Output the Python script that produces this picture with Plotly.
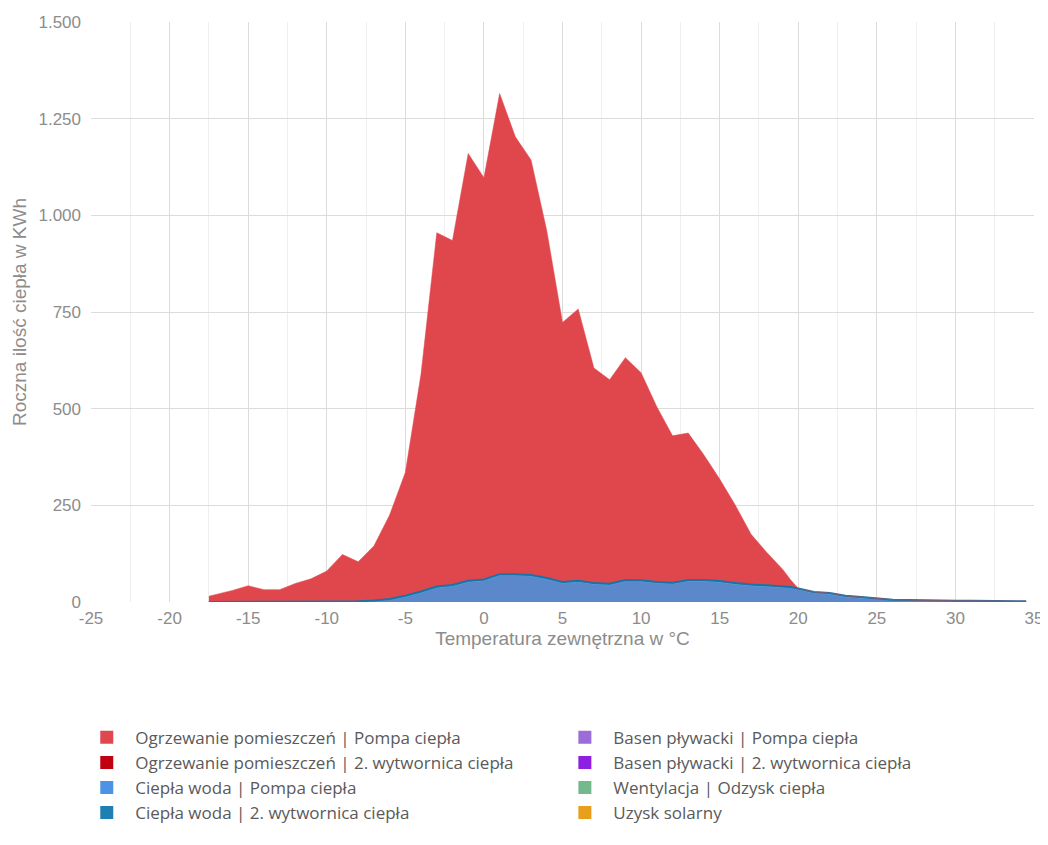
import plotly.graph_objects as go

# ---- data ----
temps = [-17.5, -17, -16, -15, -14, -13, -12, -11, -10, -9, -8, -7, -6, -5, -4, -3, -2, -1,
         0, 1, 2, 3, 4, 5, 6, 7, 8, 9, 10, 11, 12, 13, 14, 15, 16, 17, 18, 19, 19.5,
         20, 21, 22, 23, 24, 25, 26, 27, 28, 29, 30, 31, 32, 33, 34, 34.5]

# Ciepła woda | Pompa ciepła
hw_pump = [0, 0, 0, 0, 0, 0, 0, 0, 1, 1, 2, 3, 6, 13, 24, 37, 41, 52,
           55, 69, 69, 67, 59, 49, 52, 46, 44, 54, 53, 49, 47, 54, 54, 51, 46, 42, 40, 37, 36,
           32, 23, 20, 13, 10, 8, 5, 4, 3, 3, 2, 2, 2, 1, 1, 1]

# Ciepła woda | 2. wytwornica ciepła
hw_second = [0, 0, 0, 0, 0, 0, 0, 0, 0, 0, 0, 1, 2, 3, 3, 3, 3, 3,
             3, 3, 3, 3, 3, 3, 3, 3, 3, 3, 3, 3, 3, 3, 3, 3, 3, 3, 3, 3, 3,
             3, 3, 3, 3, 3, 2, 1, 1, 1, 1, 1, 1, 1, 1, 1, 1]

# Ogrzewanie pomieszczeń | Pompa ciepła (range -17.5 ... 19.5)
heat_temps = temps[:39]
heat_pump = [15, 20, 30, 42, 32, 32, 48, 60, 79, 122, 102, 141, 217, 319, 563, 915, 891, 1105,
             1039, 1243, 1131, 1073, 898, 671, 703, 556, 528, 575, 537, 453, 380, 380, 323, 264,
             201, 130, 85, 45, 19]

legend_names = [
    "Ogrzewanie pomieszczeń | Pompa ciepła",
    "Ogrzewanie pomieszczeń | 2. wytwornica ciepła",
    "Ciepła woda | Pompa ciepła",
    "Ciepła woda | 2. wytwornica ciepła",
    "Basen pływacki | Pompa ciepła",
    "Basen pływacki | 2. wytwornica ciepła",
    "Wentylacja | Odzysk ciepła",
    "Uzysk solarny",
]
legend_colors = ["#e0484e", "#c10010", "#4c93e6", "#1f7fb3",
                 "#9a6dd8", "#8d1fe3", "#74b98d", "#e89f1c"]

y_ticks = [0, 250, 500, 750, 1000, 1250, 1500]
x_ticks = [-25, -20, -15, -10, -5, 0, 5, 10, 15, 20, 25, 30, 35]

fig = go.Figure()

# stacked areas
fig.add_trace(go.Scatter(x=temps, y=hw_pump, stackgroup="s", mode="lines",
                         line=dict(color="#4aa0dc", width=1), fillcolor="#5a88cb",
                         showlegend=False, hoverinfo="skip"))
fig.add_trace(go.Scatter(x=temps, y=hw_second, stackgroup="s", mode="lines",
                         line=dict(color="#1b72a6", width=2), fillcolor="#1f77ad",
                         showlegend=False, hoverinfo="skip"))
fig.add_trace(go.Scatter(x=heat_temps, y=heat_pump, stackgroup="s", mode="lines",
                         line=dict(color="#e0474c", width=0.5), fillcolor="#e0474c",
                         showlegend=False, hoverinfo="skip"))

# legend entries (two columns -> two legends)
for i, (name, col) in enumerate(zip(legend_names, legend_colors)):
    fig.add_trace(go.Scatter(x=[None], y=[None], mode="markers", name=name,
                             marker=dict(symbol="square", size=13, color=col),
                             legend="legend" if i < 4 else "legend2"))

legend_common = dict(
    orientation="v", xanchor="left", yanchor="top", traceorder="normal",
    font=dict(family="Open Sans", size=17, color="#5a5a5a"),
    bgcolor="rgba(0,0,0,0)", itemwidth=47, tracegroupgap=0,
)

# the page body adds an 8px offset, so the figure is sized/margined to compensate
fig.update_layout(
    width=1040, height=837,
    margin=dict(l=83, r=14, t=14, b=243, autoexpand=False),
    paper_bgcolor="white", plot_bgcolor="white",
    separators=",.",
    showlegend=True,
    legend=dict(x=-0.0135, y=-0.203, **legend_common),
    legend2=dict(x=0.4935, y=-0.203, **legend_common),
    xaxis=dict(
        range=[-25, 35], tickvals=x_ticks, ticktext=[str(v) for v in x_ticks],
        showgrid=True, gridcolor="#dcdcdc", gridwidth=1, zeroline=False,
        showline=False, ticks="", automargin=False, ticklabelstandoff=4,
        minor=dict(dtick=2.5, tick0=-25, showgrid=True, gridcolor="#efefef", gridwidth=1),
        tickfont=dict(family="Liberation Sans", size=17, color="#8c8c8c"),
        title=dict(text="Temperatura zewnętrzna w °C",
                   font=dict(family="Liberation Sans", size=19, color="#8c8c8c"),
                   standoff=2),
    ),
    yaxis=dict(
        range=[0, 1500], tickvals=y_ticks, tickformat=",d",
        showgrid=True, gridcolor="#dcdcdc", gridwidth=1, zeroline=False,
        showline=False, ticks="", automargin=False, ticklabelstandoff=9,
        tickfont=dict(family="Liberation Sans", size=17, color="#8c8c8c"),
        title=dict(text="Roczna ilość ciepła w KWh",
                   font=dict(family="Liberation Sans", size=19, color="#8c8c8c"),
                   standoff=6),
    ),
)

fig.write_html("out.html", config={"displayModeBar": False})
